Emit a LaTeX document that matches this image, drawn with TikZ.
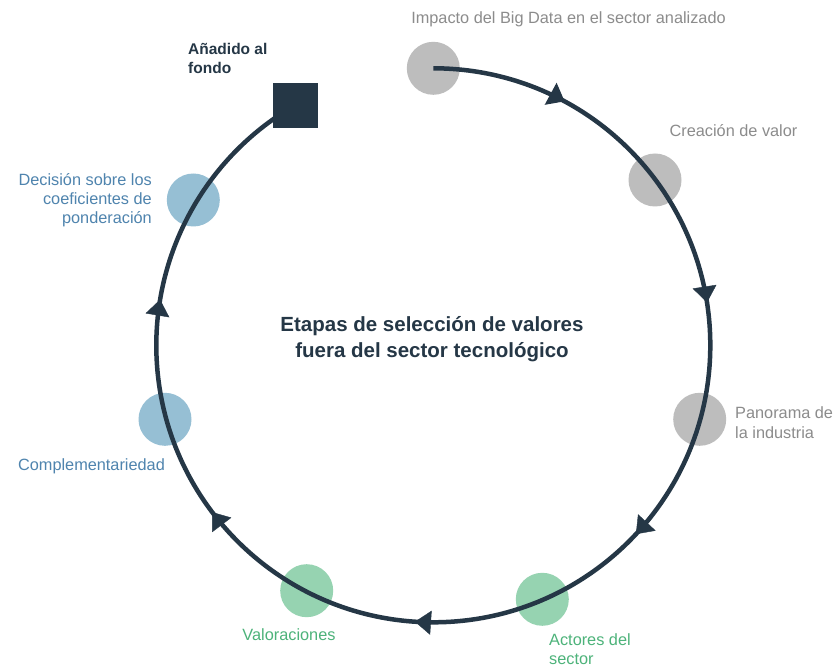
\documentclass[tikz,border=0pt]{standalone}
\usepackage{fontspec}
\setmainfont{Liberation Sans}
\usetikzlibrary{arrows.meta,decorations.markings,calc}
\definecolor{navy}{HTML}{253746}
\definecolor{gcirc}{HTML}{BDBDBD}
\definecolor{gtext}{HTML}{8C8C8C}
\definecolor{ecirc}{HTML}{96D3B1}
\definecolor{etext}{HTML}{4DB37A}
\definecolor{bcirc}{HTML}{96BFD4}
\definecolor{btext}{HTML}{4F84AE}
\begin{document}
\begin{tikzpicture}[x=1pt,y=1pt,
  dot/.style={circle,minimum size=53pt,inner sep=0pt},
  lbl/.style={inner sep=0pt,font=\fontsize{16.3}{19.7}\selectfont},
  flow/.style={line width=4.5pt,draw=navy},
  tipmark/.style={decoration={markings,
    mark=at position #1 with {\arrow[navy]{Triangle[length=16pt,width=24pt]}}}},
]
\fill[white] (0,0) rectangle (833,-668);
\useasboundingbox (0,0) rectangle (833,-668);
\coordinate (c) at (433.3,-344.8);

% stage circles
\node[dot,fill=gcirc] (g1) at (433.3,-68.3) {};
\node[dot,fill=gcirc] (g2) at (655,-180) {};
\node[dot,fill=gcirc] (g3) at (699.7,-419.3) {};
\node[dot,fill=ecirc] (e1) at (542.3,-599.3) {};
\node[dot,fill=ecirc] (e2) at (306.7,-590.7) {};
\node[dot,fill=bcirc] (b1) at (165,-419.3) {};
\node[dot,fill=bcirc] (b2) at (193.3,-200) {};

% cycle path
\draw[flow,postaction={decorate},tipmark=0.0858]
  (g1.center) arc[start angle=90,end angle=-240,radius=277];
\path[postaction={decorate},tipmark=0.2458] (g1.center) arc[start angle=90,end angle=-240,radius=277];
\path[postaction={decorate},tipmark=0.403] (g1.center) arc[start angle=90,end angle=-240,radius=277];
\path[postaction={decorate},tipmark=0.557] (g1.center) arc[start angle=90,end angle=-240,radius=277];
\path[postaction={decorate},tipmark=0.706] (g1.center) arc[start angle=90,end angle=-240,radius=277];
\path[postaction={decorate},tipmark=0.847] (g1.center) arc[start angle=90,end angle=-240,radius=277];

\node[fill=navy,minimum size=45pt,inner sep=0pt] (sq) at (295.5,-105.5) {};

% labels
\node[lbl,text=gtext] (t1) at (568.5,-19) {Impacto del Big Data en el sector analizado};
\node[lbl,text=gtext] (t2) at (733.5,-131) {Creación de valor};
\node[lbl,text=gtext,align=left,anchor=west] (t3) at (735,-423) {Panorama de\\la industria};
\node[lbl,text=etext,align=left,anchor=west,font=\fontsize{16.3}{19}\selectfont] (t4) at (549,-649.5) {Actores del\\sector};
\node[lbl,text=etext] (t5) at (289,-635) {Valoraciones};
\node[lbl,text=btext] (t6) at (91.5,-466) {Complementariedad};
\node[lbl,text=btext,align=right,anchor=east,font=\fontsize{16.3}{19}\selectfont] (t7) at (152,-200) {Decisión sobre los\\coeficientes de\\ponderación};
\node[inner sep=0pt,text=navy,align=left,anchor=west,font=\bfseries\fontsize{15.5}{19}\selectfont] (t8) at (188,-58.5) {Añadido al\\fondo};
\node[inner sep=0pt,text=navy,align=center,font=\bfseries\fontsize{20.5}{26}\selectfont] (title) at (432,-339) {Etapas de selección de valores\\fuera del sector tecnológico};
\end{tikzpicture}
\end{document}
